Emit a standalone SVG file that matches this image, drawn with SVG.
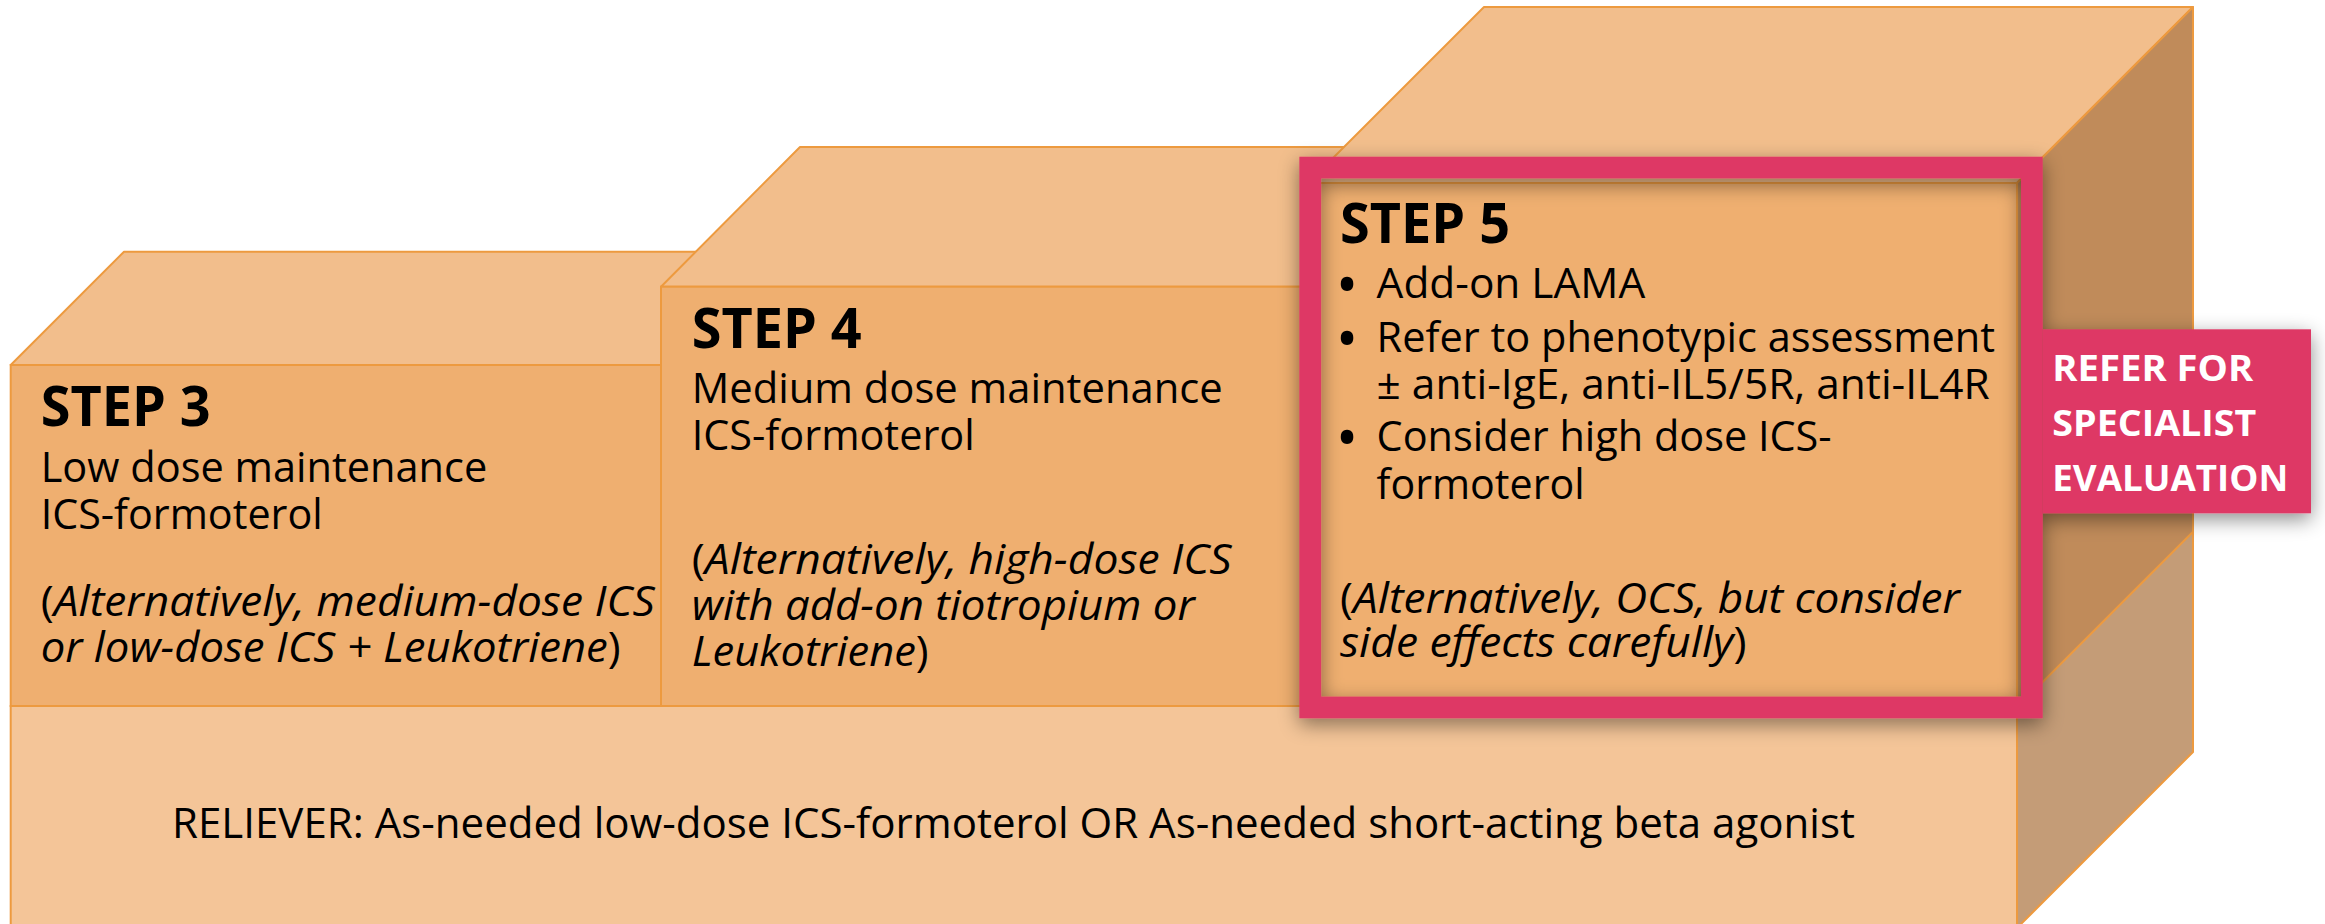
<svg xmlns="http://www.w3.org/2000/svg" width="2325" height="924" viewBox="0 0 2325 924">
<defs>
<style>
.top{fill:#F2BE8C;stroke:#ED9A3F;stroke-width:2;stroke-linejoin:round}
.front{fill:#EFAF70;stroke:#ED9A3F;stroke-width:2}
.basef{fill:#F4C598;stroke:#ED9A3F;stroke-width:2}
.side1{fill:#C08B5A;stroke:#ED9A3F;stroke-width:2;stroke-linejoin:round}
.side2{fill:#C49C77;stroke:#ED9A3F;stroke-width:2;stroke-linejoin:round}
text{font-family:"Open Sans","Liberation Sans",sans-serif;fill:#000}
.title{font-size:55px;font-weight:700}
.body{font-size:41.5px}
.bul{font-size:60px}
.it{font-style:italic}
.refer{font-size:36.5px;font-weight:700;fill:#FFFFFF}
</style>
<filter id="sh" x="-10%" y="-15%" width="125%" height="135%">
<feDropShadow dx="0" dy="6" stdDeviation="10" flood-color="#000" flood-opacity="0.45"/>
</filter>
</defs>

<g id="base">
<rect class="basef" x="10.7" y="706" width="2006.3" height="230"/>
<polygon class="side2" points="2017,706 2193,530 2193,752 2017,928"/>
<text class="body" x="172" y="838.3" textLength="1683" lengthAdjust="spacingAndGlyphs">RELIEVER: As-needed low-dose ICS-formoterol OR As-needed short-acting beta agonist</text>
</g>

<g id="step3">
<polygon class="top" points="10.7,365 124,251.7 774,251.7 661,365"/>
<rect class="front" x="10.7" y="365" width="650.3" height="341"/>
<text class="title" x="40.7" y="426" textLength="170" lengthAdjust="spacingAndGlyphs">STEP 3</text>
<text class="body" x="40.7" y="482.3" textLength="446.6" lengthAdjust="spacingAndGlyphs">Low dose maintenance</text>
<text class="body" x="40.7" y="529.3" textLength="282" lengthAdjust="spacingAndGlyphs">ICS-formoterol</text>
<text class="body" x="40.7" y="615.7" textLength="614" lengthAdjust="spacingAndGlyphs">(<tspan class="it">Alternatively, medium-dose ICS</tspan></text>
<text class="body" x="40.7" y="662.3" textLength="580" lengthAdjust="spacingAndGlyphs"><tspan class="it">or low-dose ICS + Leukotriene</tspan>)</text>
</g>

<g id="step4">
<polygon class="top" points="661,286.7 800,147 1447,147 1308,286.7"/>
<rect class="front" x="661" y="286.7" width="647" height="419.3"/>
<text class="title" x="691.7" y="347.7" textLength="170" lengthAdjust="spacingAndGlyphs">STEP 4</text>
<text class="body" x="691.7" y="403.3" textLength="531" lengthAdjust="spacingAndGlyphs">Medium dose maintenance</text>
<text class="body" x="691.7" y="450.3" textLength="283" lengthAdjust="spacingAndGlyphs">ICS-formoterol</text>
<text class="body" x="691.7" y="574" textLength="540" lengthAdjust="spacingAndGlyphs">(<tspan class="it">Alternatively, high-dose ICS</tspan></text>
<text class="body" x="691.7" y="620" textLength="503" lengthAdjust="spacingAndGlyphs"><tspan class="it">with add-on tiotropium or</tspan></text>
<text class="body" x="691.7" y="666" textLength="237" lengthAdjust="spacingAndGlyphs"><tspan class="it">Leukotriene</tspan>)</text>
</g>

<g id="step5">
<polygon class="top" points="1308,183 1484,7 2193,7 2017,183"/>
<polygon class="side1" points="2017,183 2193,7 2193,531.7 2017,707.7"/>
<rect class="front" x="1308" y="183" width="709" height="523"/>
<g filter="url(#sh)">
<rect x="1310.2" y="167.55" width="721.65" height="539.9" fill="none" stroke="#DE3765" stroke-width="21.7"/>
<g id="refer">
<rect x="2042.7" y="329.3" width="268.3" height="184" fill="#DE3765"/>
</g>
</g>
<text class="title" x="1340" y="242.5" textLength="170" lengthAdjust="spacingAndGlyphs">STEP 5</text>
<text class="bul" x="1347" y="306" text-anchor="middle">•</text>
<text class="body" x="1376.6" y="298" textLength="268.6" lengthAdjust="spacingAndGlyphs">Add-on LAMA</text>
<text class="bul" x="1347" y="360" text-anchor="middle">•</text>
<text class="body" x="1376.6" y="352" textLength="618.5" lengthAdjust="spacingAndGlyphs">Refer to phenotypic assessment</text>
<text class="body" x="1376.6" y="399" textLength="613" lengthAdjust="spacingAndGlyphs">± anti-IgE, anti-IL5/5R, anti-IL4R</text>
<text class="bul" x="1347" y="459" text-anchor="middle">•</text>
<text class="body" x="1376.6" y="451" textLength="455" lengthAdjust="spacingAndGlyphs">Consider high dose ICS-</text>
<text class="body" x="1376.6" y="498.5" textLength="208" lengthAdjust="spacingAndGlyphs">formoterol</text>
<text class="body" x="1340" y="613" textLength="620" lengthAdjust="spacingAndGlyphs">(<tspan class="it">Alternatively, OCS, but consider</tspan></text>
<text class="body" x="1340" y="657" textLength="406.6" lengthAdjust="spacingAndGlyphs"><tspan class="it">side effects carefully</tspan>)</text>
</g>

<g id="refer-text">
<text class="refer" x="2052.3" y="381" textLength="201" lengthAdjust="spacingAndGlyphs">REFER FOR</text>
<text class="refer" x="2052.3" y="435.7" textLength="204" lengthAdjust="spacingAndGlyphs">SPECIALIST</text>
<text class="refer" x="2052.3" y="490.7" textLength="236" lengthAdjust="spacingAndGlyphs">EVALUATION</text>
</g>

<g id="connectors"/>
</svg>
